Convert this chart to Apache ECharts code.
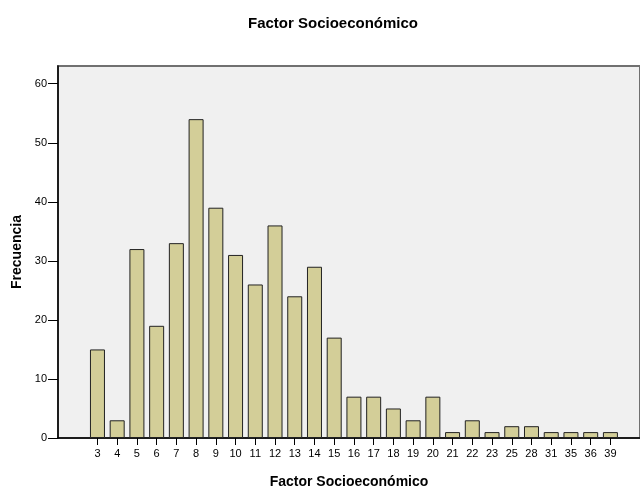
<!DOCTYPE html>
<html>
<head>
<meta charset="utf-8">
<script src="https://cdn.jsdelivr.net/npm/echarts@6/dist/echarts.min.js"></script>
<style>html,body{margin:0;padding:0;background:#fff}#c{width:640px;height:489px}</style>
</head>
<body>
<div id="c"></div>
<script>
var categories = ['3','4','5','6','7','8','9','10','11','12','13','14','15','16','17','18','19','20','21','22','23','25','28','31','35','36','39'];
var frequencies = [15,3,32,19,33,54,39,31,26,36,24,29,17,7,7,5,3,7,1,3,1,2,2,1,1,1,1];
var yTicks = [0,10,20,30,40,50,60];
var titleText = 'Factor Socioeconómico';
var xName = 'Factor Socioeconómico';
var yName = 'Frecuencia';

var idx = categories.map(function(c,i){return i;});
var data = categories.map(function(c,i){return [i, frequencies[i]];});
var FONT = 'Liberation Sans, Arial, sans-serif';

var chart = echarts.init(document.getElementById('c'), null, {renderer:'canvas'});
chart.setOption({
  animation:false,
  backgroundColor:'#ffffff',
  title:{text:titleText,left:328,top:11,textAlign:'center',
    textStyle:{fontFamily:FONT,fontSize:15,fontWeight:'bold',color:'#000'}},
  grid:{left:58,top:66,right:0,height:372,show:true,outerBoundsMode:'none',
    backgroundColor:'#f0f0f0',borderColor:'#707070',borderWidth:2,containLabel:false},
  xAxis:{type:'value',min:-2,max:27.5,
    name:xName,nameLocation:'middle',nameGap:37,
    nameTextStyle:{fontFamily:FONT,fontSize:14,fontWeight:'bold',color:'#000'},
    axisLine:{show:true,onZero:false,lineStyle:{color:'#000',width:1.5}},
    axisTick:{show:true,length:7,customValues:idx,lineStyle:{color:'#000',width:1}},
    axisLabel:{customValues:idx,margin:10,fontFamily:FONT,fontSize:11,color:'#000',
      formatter:function(v){return categories[Math.round(v)]||'';}},
    splitLine:{show:false}},
  yAxis:{type:'value',min:0,max:63,
    name:yName,nameLocation:'middle',nameGap:34,nameRotate:90,
    nameTextStyle:{fontFamily:FONT,fontSize:14,fontWeight:'bold',color:'#000'},
    axisLine:{show:true,onZero:false,lineStyle:{color:'#000',width:1.5}},
    axisTick:{show:true,length:10,customValues:yTicks,lineStyle:{color:'#000',width:1}},
    axisLabel:{customValues:yTicks,margin:11,fontFamily:FONT,fontSize:11,color:'#000'},
    splitLine:{show:false}},
  series:[{type:'bar',data:data,barWidth:15,
    itemStyle:{color:'#d3ce98',borderColor:'#222',borderWidth:1}}]
});
</script>
</body>
</html>
